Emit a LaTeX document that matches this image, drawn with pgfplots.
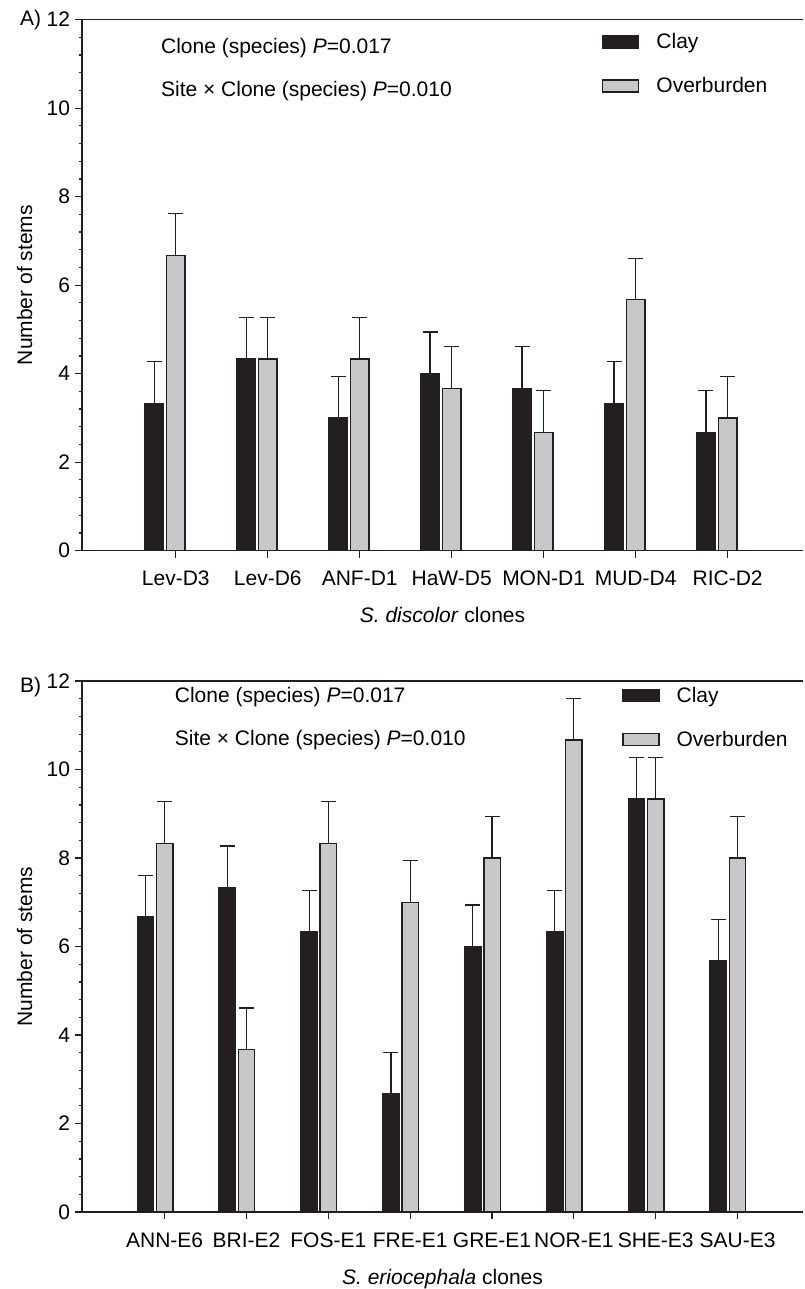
\documentclass[border=0pt]{standalone}
\usepackage{fontspec}
\setmainfont{Liberation Sans}
\usepackage{pgfplots}
\usepackage{pgfplotstable}
\pgfplotsset{compat=1.18}
\definecolor{barblack}{HTML}{231F20}
\definecolor{bargray}{HTML}{C7C8CA}
\definecolor{linec}{HTML}{231F20}
\newcommand{\fs}{\fontsize{10.5}{12.6}\selectfont}

% x = category position (overburden bar), xc = clay bar position
\pgfplotstableread{
x xc clay overb err
0 -0.235 3.33 6.67 0.94
1 0.765 4.33 4.33 0.94
2 1.765 3.00 4.33 0.94
3 2.765 4.00 3.67 0.94
4 3.765 3.67 2.67 0.94
5 4.765 3.33 5.67 0.94
6 5.765 2.67 3.00 0.94
}\dataA

\pgfplotstableread{
x xc clay overb err
0 -0.235 6.67 8.33 0.94
1 0.765 7.33 3.67 0.94
2 1.765 6.33 8.33 0.94
3 2.765 2.67 7.00 0.94
4 3.765 6.00 8.00 0.94
5 4.765 6.33 10.67 0.94
6 5.765 9.33 9.33 0.94
7 6.765 5.67 8.00 0.94
}\dataB

\pgfplotsset{
 mystyle/.style={
  scale only axis, width=360.5pt, height=265.5pt,
  anchor=south west,
  axis x line*=bottom, axis y line*=left,
  ymin=0, ymax=12, ytick={0,2,...,12}, minor y tick num=4,
  tick align=outside,
  major tick length=3.5pt, minor tick length=1.7pt,
  tick style={line width=0.6pt, color=linec},
  axis line style={line width=0.6pt, color=linec},
  /pgf/number format/assume math mode=true,
  tick label style={font=\fs},
  yticklabel style={xshift=1pt},
  label style={font=\fs},
  ylabel={Number of stems},
  ylabel style={at={(axis description cs:-0.0693,0.5)}, anchor=base},
  xlabel style={at={(axis description cs:0.5,0)}, anchor=base, yshift=-36pt},
  xticklabel style={anchor=base, yshift=-14pt},
  legend image code/.code={\draw[#1, line width=0.6pt] (0pt,-2.25pt) rectangle (18pt,3.75pt);},
  legend cell align=left,
  clip=false,
 },
 errstyle/.style={error bars/.cd, y dir=plus, y explicit, error mark=-,
   error bar style={line width=0.6pt, color=linec},
   error mark options={rotate=90, line width=0.6pt, mark size=3.75pt, color=linec}},
 clayplot/.style={ybar, bar width=0.2, bar shift=0, fill=barblack, draw=linec, line width=0.7pt, errstyle},
 overplot/.style={ybar, bar width=0.2, bar shift=0, fill=bargray, draw=linec, line width=0.7pt, errstyle},
}

\begin{document}
\begin{tikzpicture}
\useasboundingbox (0,0) rectangle (402pt,-644.5pt);

% Panel A
\begin{axis}[mystyle,
  at={(41pt,-275.3pt)},
  xmin=-1.02, xmax=6.82,
  xtick={0,...,6},
  xticklabels={Lev-D3,Lev-D6,ANF-D1,HaW-D5,MON-D1,MUD-D4,RIC-D2},
  xlabel={\textit{S. discolor} clones},
  legend style={at={(axis description cs:0.721,0.974)}, anchor=north west, draw=none, fill=none,
    inner sep=0pt, row sep=12.3pt, font=\fs,
    nodes={inner sep=0pt, text height=7.5pt, text depth=2.2pt},
    /tikz/every odd column/.style={column sep=8.5pt}},
]
\addplot[clayplot] table[x=xc, y=clay, y error=err] {\dataA};
\addlegendentry{Clay}
\addplot[overplot] table[x=x, y=overb, y error=err] {\dataA};
\addlegendentry{Overburden}
\draw[line width=0.6pt, linec] (rel axis cs:0,1) -- (rel axis cs:1,1);
\node[anchor=base west, font=\fs] at (axis description cs:0.0999,0.936) {Clone (species) \textit{P}=0.017};
\node[anchor=base west, font=\fs] at (axis description cs:0.0999,0.855) {Site × Clone (species) \textit{P}=0.010};
\end{axis}

% Panel B
\begin{axis}[mystyle,
  at={(41pt,-606pt)},
  xmin=-1.01, xmax=7.8,
  xtick={0,...,7},
  xticklabels={ANN-E6,BRI-E2,FOS-E1,FRE-E1,GRE-E1,NOR-E1,SHE-E3,SAU-E3},
  xlabel={\textit{S. eriocephala} clones},
  legend style={at={(axis description cs:0.749,0.989)}, anchor=north west, draw=none, fill=none,
    inner sep=0pt, row sep=12.3pt, font=\fs,
    nodes={inner sep=0pt, text height=7.5pt, text depth=2.2pt},
    /tikz/every odd column/.style={column sep=8.5pt}},
]
\addplot[clayplot] table[x=xc, y=clay, y error=err] {\dataB};
\addlegendentry{Clay}
\addplot[overplot] table[x=x, y=overb, y error=err] {\dataB};
\addlegendentry{Overburden}
\draw[line width=0.6pt, linec] (rel axis cs:0,1) -- (rel axis cs:1,1);
\node[anchor=base west, font=\fs] at (axis description cs:0.119,0.960) {Clone (species) \textit{P}=0.017};
\node[anchor=base west, font=\fs] at (axis description cs:0.119,0.878) {Site × Clone (species) \textit{P}=0.010};
\end{axis}

\node[anchor=base west, font=\fs] at (6.5pt,-13pt) {A)};
\node[anchor=base west, font=\fs] at (6.5pt,-346pt) {B)};
\end{tikzpicture}
\end{document}
